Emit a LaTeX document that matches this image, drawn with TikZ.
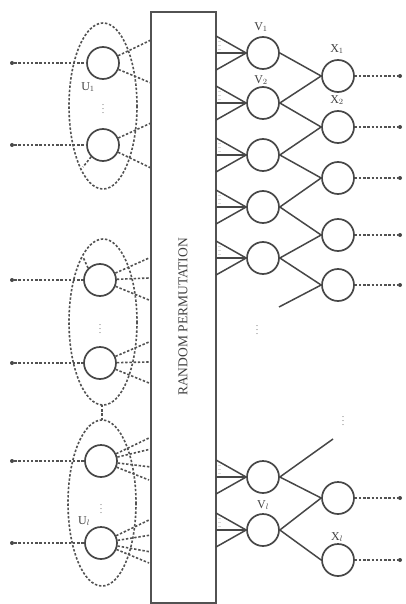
\documentclass[tikz,border=0pt]{standalone}
\usepackage{fontspec}
\setmainfont{Liberation Serif}
\begin{document}
\begin{tikzpicture}[x=1pt,y=-1pt,
  neuron/.style={circle,draw=black!72,line width=1.7pt,minimum size=32pt,inner sep=0pt},
  dsh/.style={draw=black!68,line width=1.6pt,dash pattern=on 2.4pt off 1.8pt},
  sol/.style={draw=black!72,line width=1.5pt},
  lbl/.style={text=black!75,font=\fontsize{12}{12}\selectfont,inner sep=0pt},
  dotp/.style={circle,fill=black!72,inner sep=0pt,minimum size=4pt},
  vd/.style={text=black!50,inner sep=0pt,font=\fontsize{10}{10}\selectfont},
  faint/.style={draw=black!15,line width=0.6pt}]
\useasboundingbox (0,0) rectangle (405,604);

% random permutation box
\draw[draw=black!68,line width=1.6pt] (151,12) rectangle (216,603);
\node[rotate=90,text=black!75,font=\fontsize{13.5}{13.5}\selectfont,inner sep=0pt] (rp) at (183,317) {RANDOM PERMUTATION};

% groups
\draw[dsh] (103,106) ellipse [x radius=34, y radius=83];
\draw[dsh] (103,322) ellipse [x radius=34, y radius=83];
\draw[dsh] (102,503) ellipse [x radius=34, y radius=83];
\coordinate (g2b) at (102,405);
\coordinate (g3t) at (102,420);
\draw[dsh] (g2b) -- (g3t);

% U neurons
\node[neuron] (u1) at (103,63) {};
\node[neuron] (u2) at (103,145) {};
\node[neuron] (u3) at (100,280) {};
\node[neuron] (u4) at (100,363) {};
\node[neuron] (u5) at (101,461) {};
\node[neuron] (u6) at (101,543) {};

\node[lbl] (lu1) at (88,87) {U$_1$};
\node[lbl] (lu2) at (84,521) {U$_l$};

\node[vd] (d1) at (103,106) {$\vdots$};
\node[vd] (d2) at (100,326) {$\vdots$};
\node[vd] (d3) at (101,506) {$\vdots$};
\node[vd] (d4) at (257,327) {$\vdots$};
\node[vd] (d5) at (343,418) {$\vdots$};

% inputs
\foreach \n/\yy in {u1/63,u2/145,u3/280,u4/363,u5/461,u6/543}{
  \node[dotp] (in\n) at (12,\yy) {};
  \draw[dsh] (in\n) -- (\n.west);
}

% stubs
\coordinate (s1) at (83,167);
\coordinate (s2) at (83,257);
\draw[dsh] (u2.225) -- (s1);
\draw[dsh] (u3.135) -- (s2);

% U to box
\foreach \n/\yy/\xx in {u1/40/151,u1/83/151,u2/123/151,u2/168/151,
  u3/258/149,u3/278/149,u3/300/149,u4/342/149,u4/362/149,u4/383/149,
  u5/438/149,u5/449/151,u5/467/151,u5/480/149,
  u6/520/149,u6/535/151,u6/552/151,u6/563/149}{
  \coordinate (t) at (\xx,\yy);
  \draw[dsh] (\n) -- (t);
}

% V neurons
\foreach \i/\yy in {1/53,2/103,3/155,4/207,5/258,6/477,7/530}{
  \node[neuron] (v\i) at (263,\yy) {};
  \coordinate (ba\i) at (216,\yy-17);
  \coordinate (bb\i) at (216,\yy);
  \coordinate (bc\i) at (216,\yy+17);
  \draw[sol] (ba\i) -- (v\i.west);
  \draw[sol] (bb\i) -- (v\i.west);
  \draw[sol] (bc\i) -- (v\i.west);
  \foreach \k in {-12,-8,-4}{\draw[faint] (218,\yy+\k) -- (221,\yy+\k);}
}

% X neurons
\foreach \i/\yy in {1/76,2/127,3/178,4/235,5/285,6/498,7/560}{
  \node[neuron] (x\i) at (338,\yy) {};
  \node[dotp] (o\i) at (400,\yy) {};
  \draw[dsh] (x\i.east) -- (o\i);
}

\node[lbl] (lv1) at (261,27) {V$_1$};
\node[lbl] (lv2) at (261,80) {V$_2$};
\node[lbl] (lx1) at (337,49) {X$_1$};
\node[lbl] (lx2) at (337,100) {X$_2$};
\node[lbl] (lv6) at (263,505) {V$_l$};
\node[lbl] (lx7) at (337,537) {X$_l$};

% V to X
\draw[sol] (v1.east) -- (x1.west);
\draw[sol] (v2.east) -- (x1.west);
\draw[sol] (v2.east) -- (x2.west);
\draw[sol] (v3.east) -- (x2.west);
\draw[sol] (v3.east) -- (x3.west);
\draw[sol] (v4.east) -- (x3.west);
\draw[sol] (v4.east) -- (x4.west);
\draw[sol] (v5.east) -- (x4.west);
\draw[sol] (v5.east) -- (x5.west);
\coordinate (st1) at (279,307);
\draw[sol] (st1) -- (x5.west);
\coordinate (st2) at (333,439);
\draw[sol] (v6.east) -- (st2);
\draw[sol] (v6.east) -- (x6.west);
\draw[sol] (v7.east) -- (x6.west);
\draw[sol] (v7.east) -- (x7.west);
\end{tikzpicture}
\end{document}
